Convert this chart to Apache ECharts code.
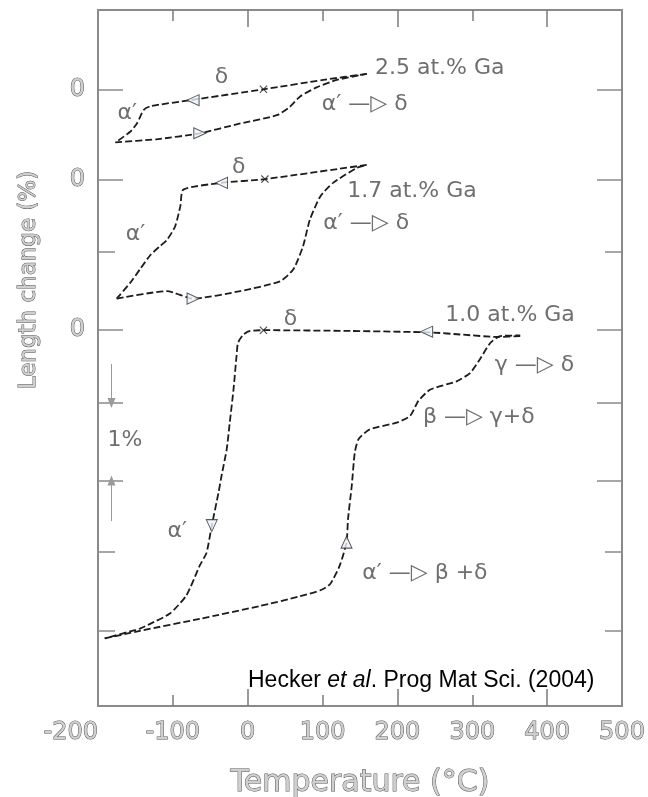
<!DOCTYPE html>
<html>
<head>
<meta charset="utf-8">
<script src="https://cdn.jsdelivr.net/npm/echarts@6/dist/echarts.min.js"></script>
<style>
  html, body { margin: 0; padding: 0; background: #fff; }
  #chart { width: 648px; height: 797px; }
</style>
</head>
<body>
<div id="chart"></div>
<script>
// dilatometry loops, [temperature °C, length change %] with each alloy offset on the y scale
const ga25Cool = [[159, 3.41], [101, 3.33], [21, 3.205], [-77, 3.06], [-130, 2.98], [-139, 2.93], [-148, 2.75], [-157, 2.64], [-175, 2.51]]
const ga25Heat = [[-177, 2.50], [-122, 2.54], [-64, 2.62], [-10, 2.75], [39, 2.86], [56, 2.97], [70, 3.11], [92, 3.23], [119, 3.33], [159, 3.41]]

const ga17Cool = [[159, 2.20], [23, 2.01], [-35, 1.96], [-86, 1.87], [-90, 1.65], [-97, 1.38], [-108, 1.20], [-117, 1.12], [-130, 1.0], [-144, 0.81], [-157, 0.63], [-175, 0.42]]
const ga17Heat = [[-175, 0.42], [-108, 0.52], [-73, 0.42], [-10, 0.52], [43, 0.65], [61, 0.81], [74, 1.12], [83, 1.47], [97, 1.78], [114, 1.96], [146, 2.16], [159, 2.20]]

const ga10Cool = [[364, -0.08], [333, -0.09], [288, -0.06], [244, -0.03], [137, -0.01], [21, 0], [3, -0.01], [-6, -0.06], [-13, -0.17], [-15, -0.35], [-19, -0.79], [-24, -1.23], [-28, -1.58], [-35, -1.94], [-39, -2.16], [-48, -2.60], [-55, -2.96], [-64, -3.13], [-82, -3.53], [-104, -3.77], [-131, -3.91], [-144, -3.97], [-191, -4.10]]
const ga10Heat = [[-191, -4.10], [-144, -4.00], [-64, -3.84], [16, -3.67], [70, -3.54], [97, -3.46], [110, -3.38], [123, -3.13], [132, -2.82], [134, -2.51], [139, -2.07], [143, -1.63], [148, -1.45], [163, -1.32], [199, -1.23], [217, -1.14], [228, -0.94], [244, -0.79], [279, -0.68], [297, -0.57], [310, -0.39], [324, -0.17], [337, -0.08], [364, -0.07]]

// direction arrows on the loops and the room temperature start points
const arrowSpots = [[-73, 3.06], [-64, 2.62], [-35, 1.96], [-73, 0.42], [239, -0.02], [-48, -2.6], [132, -2.82]]
const arrowTurns = [90, -90, 90, -90, 90, 180, 0]
const startSpots = [[21, 3.205], [23, 2.01], [21, 0]]

// x ticks: long at every 200, short in between
const tempLong = [0, 200, 400]
const tempShort = [-100, 100, 300]

// y ticks: zero of each alloy plus the 1 % steps
const zeroTicks = [3.2, 2, 0]
const longTicks = [3.2, 2, 0, -0.97, -2]
const shortTicks = [1.05, -2.95, -4]

const noteTexts = ['δ', '2.5 at.% Ga', 'α′', 'α′ —▷ δ', 'δ', '1.7 at.% Ga', 'α′', 'α′ —▷ δ', 'δ', '1.0 at.% Ga', 'γ —▷ δ', 'β —▷ γ+δ', 'α′', 'α′ —▷ β +δ', '1%']
const noteSpots = [[-35, 3.36], [170, 3.49], [-161, 2.89], [99, 3.0], [-12, 2.17], [133, 1.85], [-150, 1.27], [101, 1.42], [57, 0.14], [264, 0.2], [330, -0.47], [234, -1.16], [-94, -2.67], [153, -3.24], [-164, -1.47]]
const noteLeft = [false, true, false, true, false, true, false, true, false, true, true, true, false, true, false]

const yMin = -5
const yMax = 4.26
const pxPerPct = 75.3

const hollow = {
  fontFamily: 'DejaVu Sans',
  color: '#cfcfcf',
  textBorderColor: '#555',
  textBorderWidth: 1
}
const frameColor = '#8a8a8a'
const curveStyle = { color: '#1c1c1c', width: 1.8, type: [7, 3] }

function loop(data) {
  return {
    type: 'line',
    data: data,
    symbol: 'none',
    smooth: 0.2,
    lineStyle: curveStyle,
    z: 3
  }
}

// x ticks as segments rising from the bottom frame and hanging from the top frame
function tempTickPairs(v, px) {
  const d = px / pxPerPct
  return [
    [{ coord: [v, yMin] }, { coord: [v, yMin + d] }],
    [{ coord: [v, yMax] }, { coord: [v, yMax - d] }]
  ]
}

function ticks(length, custom) {
  return { show: true, inside: true, length: length, customValues: custom, lineStyle: { color: frameColor, width: 1.5 } }
}

function tickAxis(position, opts) {
  return Object.assign({
    type: 'value',
    position: position,
    axisLine: { show: false, onZero: false },
    axisLabel: { show: false },
    splitLine: { show: false }
  }, opts)
}

const tickPairs = []
tempLong.forEach(v => tickPairs.push(...tempTickPairs(v, 17)))
tempShort.forEach(v => tickPairs.push(...tempTickPairs(v, 11)))

const chart = echarts.init(document.getElementById('chart'))
chart.setOption({
  animation: false,
  backgroundColor: '#fff',
  title: {
    text: '{a|Hecker }{b|et al}{a|. Prog Mat Sci. (2004)}',
    left: 243,
    top: 664,
    textStyle: {
      rich: {
        a: { fontFamily: 'Liberation Sans', fontSize: 23, fontWeight: 'normal', color: '#000' },
        b: { fontFamily: 'Liberation Sans', fontSize: 23, fontWeight: 'normal', color: '#000', fontStyle: 'italic' }
      }
    }
  },
  grid: { left: 98, right: 26, top: 10, bottom: 91, outerBoundsMode: 'none', containLabel: false },
  xAxis: [
    tickAxis('bottom', {
      min: -200, max: 500, interval: 100,
      name: 'Temperature (°C)', nameLocation: 'middle', nameGap: 62,
      nameTextStyle: Object.assign({ fontSize: 30 }, hollow),
      axisLine: { show: true, onZero: false, lineStyle: { color: frameColor, width: 2 } },
      axisTick: { show: false },
      axisLabel: Object.assign({ fontSize: 24, margin: 15, alignMinLabel: 'right' }, hollow)
    }),
    tickAxis('top', {
      min: -200, max: 500,
      axisLine: { show: true, onZero: false, lineStyle: { color: frameColor, width: 2 } },
      axisTick: { show: false }
    })
  ],
  yAxis: [
    tickAxis('left', {
      min: yMin, max: yMax,
      name: 'Length change (%)', nameLocation: 'middle', nameGap: 57,
      nameTextStyle: Object.assign({ fontSize: 23, padding: [0, 0, 0, 156] }, hollow),
      axisLine: { show: true, onZero: false, lineStyle: { color: frameColor, width: 2 } },
      axisTick: ticks(25, longTicks),
      axisLabel: Object.assign({ fontSize: 24, margin: 13, customValues: zeroTicks, formatter: () => '0' }, hollow)
    }),
    tickAxis('left', { min: yMin, max: yMax, axisTick: ticks(17, shortTicks) }),
    tickAxis('right', {
      min: yMin, max: yMax,
      axisLine: { show: true, onZero: false, lineStyle: { color: frameColor, width: 2 } },
      axisTick: ticks(25, longTicks)
    }),
    tickAxis('right', { min: yMin, max: yMax, axisTick: ticks(17, shortTicks) })
  ],
  series: [
    loop(ga25Cool), loop(ga25Heat),
    loop(ga17Cool), loop(ga17Heat),
    loop(ga10Cool), loop(ga10Heat),
    {
      type: 'scatter',
      symbol: 'triangle',
      symbolSize: [11, 12],
      data: arrowSpots.map((p, i) => ({ value: p, symbolRotate: arrowTurns[i] })),
      itemStyle: { color: '#eef2fb', borderColor: '#333', borderWidth: 1 },
      z: 5
    },
    {
      type: 'scatter',
      symbol: 'path://M0,1L1,0L5,4L9,0L10,1L6,5L10,9L9,10L5,6L1,10L0,9L4,5Z',
      symbolSize: 8,
      data: startSpots,
      itemStyle: { color: '#222' },
      z: 5
    },
    {
      type: 'scatter',
      symbolSize: 0,
      data: noteSpots.map((p, i) => ({
        value: p,
        label: {
          show: true,
          formatter: noteTexts[i],
          position: noteLeft[i] ? 'right' : 'inside',
          distance: 0
        }
      })),
      label: {
        fontFamily: 'DejaVu Sans',
        fontSize: 22,
        color: '#4a4a4a'
      },
      markLine: {
        silent: true,
        symbol: ['none', 'triangle'],
        symbolSize: [8, 10],
        label: { show: false },
        lineStyle: { color: '#9a9a9a', width: 1, type: 'solid' },
        data: [
          [{ coord: [-182, -0.45] }, { coord: [-182, -0.97] }],
          [{ coord: [-182, -2.54] }, { coord: [-182, -2.0] }]
        ]
      },
      z: 4
    },
    {
      type: 'scatter',
      data: [],
      markLine: {
        silent: true,
        symbol: 'none',
        label: { show: false },
        lineStyle: { color: '#7a7a7a', width: 1.5, type: 'solid' },
        data: tickPairs
      },
      z: 10
    }
  ]
})
</script>
</body>
</html>
